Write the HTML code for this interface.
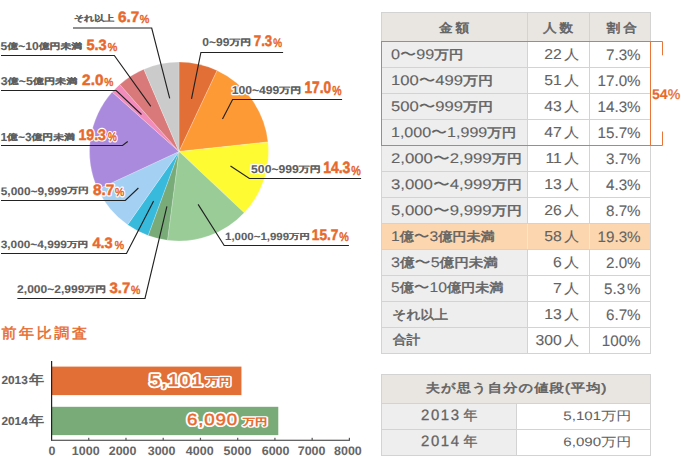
<!DOCTYPE html>
<html lang="ja">
<head>
<meta charset="utf-8">
<style>
html,body{margin:0;padding:0;background:#fff;}
body{width:681px;height:456px;overflow:hidden;position:relative;font-family:"Liberation Sans",sans-serif;}
svg{position:absolute;left:0;top:0;display:block;}
</style>
</head>
<body>
<svg width="681" height="456" viewBox="0 0 681 456">
<g stroke="#fff" stroke-width="0.3" stroke-opacity="0.7" stroke-linejoin="round">
<path d="M179 151.5L179.00 62.00A89.5 89.5 0 0 1 217.10 70.52Z" fill="#E26F36"/>
<path d="M179 151.5L217.10 70.52A89.5 89.5 0 0 1 267.99 141.95Z" fill="#FE9A36"/>
<path d="M179 151.5L267.99 141.95A89.5 89.5 0 0 1 244.21 212.80Z" fill="#FFFB33"/>
<path d="M179 151.5L244.21 212.80A89.5 89.5 0 0 1 167.44 240.25Z" fill="#9ACC98"/>
<path d="M179 151.5L167.44 240.25A89.5 89.5 0 0 1 148.11 235.50Z" fill="#78AB78"/>
<path d="M179 151.5L148.11 235.50A89.5 89.5 0 0 1 127.62 224.78Z" fill="#38BADC"/>
<path d="M179 151.5L127.62 224.78A89.5 89.5 0 0 1 97.84 189.24Z" fill="#A4D0F4"/>
<path d="M179 151.5L97.84 189.24A89.5 89.5 0 0 1 112.15 91.99Z" fill="#AA8ADD"/>
<path d="M179 151.5L112.15 91.99A89.5 89.5 0 0 1 119.79 84.38Z" fill="#F28CBC"/>
<path d="M179 151.5L119.79 84.38A89.5 89.5 0 0 1 143.85 69.19Z" fill="#DA7979"/>
<path d="M179 151.5L143.85 69.19A89.5 89.5 0 0 1 179.00 62.00Z" fill="#CBCBCB"/>
</g>
<g fill="none" stroke="#222" stroke-width="1.15">
<polyline points="73,28 151.7,28 169.7,98.4"/>
<polyline points="1,55.5 114.3,55.5 150.8,106.4"/>
<polyline points="1,90.5 116.2,90.5 141.5,114.5"/>
<polyline points="1,145.5 122.5,145.5 127.7,141.5"/>
<polyline points="1,200.5 125.3,200.5 138.4,188"/>
<polyline points="1,253.5 126.5,253.5 153.6,200.9"/>
<polyline points="17.4,298.5 145,298.5 166.9,206.3"/>
<polyline points="283.1,52.5 200.9,52.5 191.5,98.9"/>
<polyline points="342.1,99.5 232.6,99.5 222.5,119"/>
<polyline points="361.1,178.5 249.4,178.5 230.5,166"/>
<polyline points="348.9,245.5 224.2,245.5 198.1,204.4"/>
</g>
<g font-family="Liberation Sans, sans-serif" font-weight="bold" fill="#fff" stroke="#fff" stroke-width="2.6" stroke-linejoin="round" text-rendering="geometricPrecision">
<text transform="matrix(1.0666 0 0 0.8734 73.88 22.29)" font-size="13" font-weight="bold"><tspan font-size="9.4" dy="-1.3">それ以上</tspan></text>
<text transform="matrix(1.0926 0 0 1.0722 118.02 21.97)" font-size="14" font-weight="bold">6.7</text>
<text transform="matrix(0.9739 0 0 1.0629 139.8 23.34)" font-size="11" font-weight="normal">%</text>
<text transform="matrix(1.1613 0 0 0.8723 0.59 50.37)" font-size="13" font-weight="bold"><tspan font-size="13" textLength="5.79" lengthAdjust="spacingAndGlyphs">5</tspan><tspan font-size="9.4" dy="-1.3">億</tspan><tspan font-size="13" dy="1.3" textLength="17.65" lengthAdjust="spacingAndGlyphs">~10</tspan><tspan font-size="9.4" dy="-1.3">億円未満</tspan></text>
<text transform="matrix(1.0398 0 0 1.074 86.44 49.87)" font-size="14" font-weight="bold">5.3</text>
<text transform="matrix(0.9739 0 0 1.0629 107.8 51.34)" font-size="11" font-weight="normal">%</text>
<text transform="matrix(1.1907 0 0 0.8731 0.63 85.48)" font-size="13" font-weight="bold"><tspan font-size="13" textLength="5.79" lengthAdjust="spacingAndGlyphs">3</tspan><tspan font-size="9.4" dy="-1.3">億</tspan><tspan font-size="13" dy="1.3" textLength="11.86" lengthAdjust="spacingAndGlyphs">~5</tspan><tspan font-size="9.4" dy="-1.3">億円未満</tspan></text>
<text transform="matrix(1.0935 0 0 1.074 82.12 84.98)" font-size="14" font-weight="bold">2.0</text>
<text transform="matrix(0.9213 0 0 1.0625 104.31 86.34)" font-size="11" font-weight="normal">%</text>
<text transform="matrix(1.1529 0 0 0.8988 0.42 140.69)" font-size="13" font-weight="bold"><tspan font-size="13" textLength="5.79" lengthAdjust="spacingAndGlyphs">1</tspan><tspan font-size="9.4" dy="-1.3">億</tspan><tspan font-size="13" dy="1.3" textLength="11.86" lengthAdjust="spacingAndGlyphs">~3</tspan><tspan font-size="9.4" dy="-1.3">億円未満</tspan></text>
<text transform="matrix(1.0095 0 0 1.0956 78.44 140.06)" font-size="14" font-weight="bold">19.3</text>
<text transform="matrix(0.8951 0 0 1.1256 108.0 141.22)" font-size="11" font-weight="normal">%</text>
<text transform="matrix(1.1454 0 0 0.8444 0.71 194.52)" font-size="13" font-weight="bold"><tspan font-size="13" textLength="58.12" lengthAdjust="spacingAndGlyphs">5,000~9,999</tspan><tspan font-size="9.4" dy="-1.3">万円</tspan></text>
<text transform="matrix(1.0935 0 0 1.0718 92.92 194.88)" font-size="14" font-weight="bold">8.7</text>
<text transform="matrix(0.9478 0 0 1.0625 115.0 196.43)" font-size="11" font-weight="normal">%</text>
<text transform="matrix(1.1387 0 0 0.8225 0.71 248.36)" font-size="13" font-weight="bold"><tspan font-size="13" textLength="58.12" lengthAdjust="spacingAndGlyphs">3,000~4,999</tspan><tspan font-size="9.4" dy="-1.3">万円</tspan></text>
<text transform="matrix(1.039 0 0 1.0717 92.41 247.85)" font-size="14" font-weight="bold">4.3</text>
<text transform="matrix(0.9478 0 0 1.0625 114.7 249.34)" font-size="11" font-weight="normal">%</text>
<text transform="matrix(1.1586 0 0 0.8669 17.09 292.85)" font-size="13" font-weight="bold"><tspan font-size="13" textLength="58.12" lengthAdjust="spacingAndGlyphs">2,000~2,999</tspan><tspan font-size="9.4" dy="-1.3">万円</tspan></text>
<text transform="matrix(1.0658 0 0 1.0716 109.5 293.08)" font-size="14" font-weight="bold">3.7</text>
<text transform="matrix(0.9478 0 0 1.0941 131.0 294.42)" font-size="11" font-weight="normal">%</text>
<text transform="matrix(1.1585 0 0 0.8689 202.29 46.38)" font-size="13" font-weight="bold"><tspan font-size="13" textLength="23.44" lengthAdjust="spacingAndGlyphs">0~99</tspan><tspan font-size="9.4" dy="-1.3">万円</tspan></text>
<text transform="matrix(0.9475 0 0 1.0952 253.76 45.65)" font-size="14" font-weight="bold">7.3</text>
<text transform="matrix(0.8953 0 0 1.1254 273.32 47.33)" font-size="11" font-weight="normal">%</text>
<text transform="matrix(1.1681 0 0 0.8689 231.68 93.99)" font-size="13" font-weight="bold"><tspan font-size="13" textLength="40.79" lengthAdjust="spacingAndGlyphs">100~499</tspan><tspan font-size="9.4" dy="-1.3">万円</tspan></text>
<text transform="matrix(0.9809 0 0 1.1953 304.46 92.96)" font-size="14" font-weight="bold">17.0</text>
<text transform="matrix(0.9478 0 0 1.1878 332.31 94.51)" font-size="11" font-weight="normal">%</text>
<text transform="matrix(1.171 0 0 0.8688 251.09 173.2)" font-size="13" font-weight="bold"><tspan font-size="13" textLength="40.79" lengthAdjust="spacingAndGlyphs">500~999</tspan><tspan font-size="9.4" dy="-1.3">万円</tspan></text>
<text transform="matrix(1.0001 0 0 1.1714 323.14 172.97)" font-size="14" font-weight="bold">14.3</text>
<text transform="matrix(0.9741 0 0 1.1878 351.3 174.51)" font-size="11" font-weight="normal">%</text>
<text transform="matrix(1.1026 0 0 0.8004 225.03 240.15)" font-size="13" font-weight="bold"><tspan font-size="13" textLength="58.12" lengthAdjust="spacingAndGlyphs">1,000~1,999</tspan><tspan font-size="9.4" dy="-1.3">万円</tspan></text>
<text transform="matrix(0.9808 0 0 1.0956 311.76 240.05)" font-size="14" font-weight="bold">15.7</text>
<text transform="matrix(0.9741 0 0 1.1256 339.3 241.22)" font-size="11" font-weight="normal">%</text>
</g>
<g font-family="Liberation Sans, sans-serif" font-weight="bold" text-rendering="geometricPrecision">
<text transform="matrix(1.0666 0 0 0.8734 73.88 22.29)" font-size="13" font-weight="bold" fill="#5e5e5e" stroke="#5e5e5e" stroke-width="0.1"><tspan font-size="9.4" dy="-1.3">それ以上</tspan></text>
<text transform="matrix(1.0926 0 0 1.0722 118.02 21.97)" font-size="14" font-weight="bold" fill="#e8692c" stroke="#e8692c" stroke-width="0.45">6.7</text>
<text transform="matrix(0.9739 0 0 1.0629 139.8 23.34)" font-size="11" font-weight="normal" fill="#e8692c" stroke="#e8692c" stroke-width="0.5">%</text>
<text transform="matrix(1.1613 0 0 0.8723 0.59 50.37)" font-size="13" font-weight="bold" fill="#5e5e5e" stroke="#5e5e5e" stroke-width="0.1"><tspan font-size="13" textLength="5.79" lengthAdjust="spacingAndGlyphs">5</tspan><tspan font-size="9.4" dy="-1.3">億</tspan><tspan font-size="13" dy="1.3" textLength="17.65" lengthAdjust="spacingAndGlyphs">~10</tspan><tspan font-size="9.4" dy="-1.3">億円未満</tspan></text>
<text transform="matrix(1.0398 0 0 1.074 86.44 49.87)" font-size="14" font-weight="bold" fill="#e8692c" stroke="#e8692c" stroke-width="0.45">5.3</text>
<text transform="matrix(0.9739 0 0 1.0629 107.8 51.34)" font-size="11" font-weight="normal" fill="#e8692c" stroke="#e8692c" stroke-width="0.5">%</text>
<text transform="matrix(1.1907 0 0 0.8731 0.63 85.48)" font-size="13" font-weight="bold" fill="#5e5e5e" stroke="#5e5e5e" stroke-width="0.1"><tspan font-size="13" textLength="5.79" lengthAdjust="spacingAndGlyphs">3</tspan><tspan font-size="9.4" dy="-1.3">億</tspan><tspan font-size="13" dy="1.3" textLength="11.86" lengthAdjust="spacingAndGlyphs">~5</tspan><tspan font-size="9.4" dy="-1.3">億円未満</tspan></text>
<text transform="matrix(1.0935 0 0 1.074 82.12 84.98)" font-size="14" font-weight="bold" fill="#e8692c" stroke="#e8692c" stroke-width="0.45">2.0</text>
<text transform="matrix(0.9213 0 0 1.0625 104.31 86.34)" font-size="11" font-weight="normal" fill="#e8692c" stroke="#e8692c" stroke-width="0.5">%</text>
<text transform="matrix(1.1529 0 0 0.8988 0.42 140.69)" font-size="13" font-weight="bold" fill="#5e5e5e" stroke="#5e5e5e" stroke-width="0.1"><tspan font-size="13" textLength="5.79" lengthAdjust="spacingAndGlyphs">1</tspan><tspan font-size="9.4" dy="-1.3">億</tspan><tspan font-size="13" dy="1.3" textLength="11.86" lengthAdjust="spacingAndGlyphs">~3</tspan><tspan font-size="9.4" dy="-1.3">億円未満</tspan></text>
<text transform="matrix(1.0095 0 0 1.0956 78.44 140.06)" font-size="14" font-weight="bold" fill="#e8692c" stroke="#e8692c" stroke-width="0.45">19.3</text>
<text transform="matrix(0.8951 0 0 1.1256 108.0 141.22)" font-size="11" font-weight="normal" fill="#e8692c" stroke="#e8692c" stroke-width="0.5">%</text>
<text transform="matrix(1.1454 0 0 0.8444 0.71 194.52)" font-size="13" font-weight="bold" fill="#5e5e5e" stroke="#5e5e5e" stroke-width="0.1"><tspan font-size="13" textLength="58.12" lengthAdjust="spacingAndGlyphs">5,000~9,999</tspan><tspan font-size="9.4" dy="-1.3">万円</tspan></text>
<text transform="matrix(1.0935 0 0 1.0718 92.92 194.88)" font-size="14" font-weight="bold" fill="#e8692c" stroke="#e8692c" stroke-width="0.45">8.7</text>
<text transform="matrix(0.9478 0 0 1.0625 115.0 196.43)" font-size="11" font-weight="normal" fill="#e8692c" stroke="#e8692c" stroke-width="0.5">%</text>
<text transform="matrix(1.1387 0 0 0.8225 0.71 248.36)" font-size="13" font-weight="bold" fill="#5e5e5e" stroke="#5e5e5e" stroke-width="0.1"><tspan font-size="13" textLength="58.12" lengthAdjust="spacingAndGlyphs">3,000~4,999</tspan><tspan font-size="9.4" dy="-1.3">万円</tspan></text>
<text transform="matrix(1.039 0 0 1.0717 92.41 247.85)" font-size="14" font-weight="bold" fill="#e8692c" stroke="#e8692c" stroke-width="0.45">4.3</text>
<text transform="matrix(0.9478 0 0 1.0625 114.7 249.34)" font-size="11" font-weight="normal" fill="#e8692c" stroke="#e8692c" stroke-width="0.5">%</text>
<text transform="matrix(1.1586 0 0 0.8669 17.09 292.85)" font-size="13" font-weight="bold" fill="#5e5e5e" stroke="#5e5e5e" stroke-width="0.1"><tspan font-size="13" textLength="58.12" lengthAdjust="spacingAndGlyphs">2,000~2,999</tspan><tspan font-size="9.4" dy="-1.3">万円</tspan></text>
<text transform="matrix(1.0658 0 0 1.0716 109.5 293.08)" font-size="14" font-weight="bold" fill="#e8692c" stroke="#e8692c" stroke-width="0.45">3.7</text>
<text transform="matrix(0.9478 0 0 1.0941 131.0 294.42)" font-size="11" font-weight="normal" fill="#e8692c" stroke="#e8692c" stroke-width="0.5">%</text>
<text transform="matrix(1.1585 0 0 0.8689 202.29 46.38)" font-size="13" font-weight="bold" fill="#5e5e5e" stroke="#5e5e5e" stroke-width="0.1"><tspan font-size="13" textLength="23.44" lengthAdjust="spacingAndGlyphs">0~99</tspan><tspan font-size="9.4" dy="-1.3">万円</tspan></text>
<text transform="matrix(0.9475 0 0 1.0952 253.76 45.65)" font-size="14" font-weight="bold" fill="#e8692c" stroke="#e8692c" stroke-width="0.45">7.3</text>
<text transform="matrix(0.8953 0 0 1.1254 273.32 47.33)" font-size="11" font-weight="normal" fill="#e8692c" stroke="#e8692c" stroke-width="0.5">%</text>
<text transform="matrix(1.1681 0 0 0.8689 231.68 93.99)" font-size="13" font-weight="bold" fill="#5e5e5e" stroke="#5e5e5e" stroke-width="0.1"><tspan font-size="13" textLength="40.79" lengthAdjust="spacingAndGlyphs">100~499</tspan><tspan font-size="9.4" dy="-1.3">万円</tspan></text>
<text transform="matrix(0.9809 0 0 1.1953 304.46 92.96)" font-size="14" font-weight="bold" fill="#e8692c" stroke="#e8692c" stroke-width="0.45">17.0</text>
<text transform="matrix(0.9478 0 0 1.1878 332.31 94.51)" font-size="11" font-weight="normal" fill="#e8692c" stroke="#e8692c" stroke-width="0.5">%</text>
<text transform="matrix(1.171 0 0 0.8688 251.09 173.2)" font-size="13" font-weight="bold" fill="#5e5e5e" stroke="#5e5e5e" stroke-width="0.1"><tspan font-size="13" textLength="40.79" lengthAdjust="spacingAndGlyphs">500~999</tspan><tspan font-size="9.4" dy="-1.3">万円</tspan></text>
<text transform="matrix(1.0001 0 0 1.1714 323.14 172.97)" font-size="14" font-weight="bold" fill="#e8692c" stroke="#e8692c" stroke-width="0.45">14.3</text>
<text transform="matrix(0.9741 0 0 1.1878 351.3 174.51)" font-size="11" font-weight="normal" fill="#e8692c" stroke="#e8692c" stroke-width="0.5">%</text>
<text transform="matrix(1.1026 0 0 0.8004 225.03 240.15)" font-size="13" font-weight="bold" fill="#5e5e5e" stroke="#5e5e5e" stroke-width="0.1"><tspan font-size="13" textLength="58.12" lengthAdjust="spacingAndGlyphs">1,000~1,999</tspan><tspan font-size="9.4" dy="-1.3">万円</tspan></text>
<text transform="matrix(0.9808 0 0 1.0956 311.76 240.05)" font-size="14" font-weight="bold" fill="#e8692c" stroke="#e8692c" stroke-width="0.45">15.7</text>
<text transform="matrix(0.9741 0 0 1.1256 339.3 241.22)" font-size="11" font-weight="normal" fill="#e8692c" stroke="#e8692c" stroke-width="0.5">%</text>
</g>
<text transform="matrix(1.0059 0 0 0.9676 1.5 338.43)" font-family="Liberation Sans, sans-serif" font-size="15" font-weight="normal" fill="#e86b2e" stroke="#e86b2e" stroke-width="0.45" text-rendering="geometricPrecision" letter-spacing="2.5">前年比調査</text>
<rect x="52" y="366.6" width="189.45" height="28.5" fill="#E26F36"/>
<rect x="52" y="406.8" width="226.28" height="28.3" fill="#78AB78"/>
<rect x="51" y="361" width="1.2" height="80" fill="#222"/>
<rect x="51" y="439.7" width="298.9" height="1.2" fill="#555"/>
<rect x="88.14" y="437.8" width="1.2" height="2.5" fill="#555"/>
<rect x="125.38" y="437.8" width="1.2" height="2.5" fill="#555"/>
<rect x="162.61" y="437.8" width="1.2" height="2.5" fill="#555"/>
<rect x="199.85" y="437.8" width="1.2" height="2.5" fill="#555"/>
<rect x="237.09" y="437.8" width="1.2" height="2.5" fill="#555"/>
<rect x="274.32" y="437.8" width="1.2" height="2.5" fill="#555"/>
<rect x="311.56" y="437.8" width="1.2" height="2.5" fill="#555"/>
<rect x="348.80" y="437.8" width="1.2" height="2.5" fill="#555"/>
<g font-family="Liberation Sans, sans-serif" font-size="12" font-weight="bold" fill="#666" text-anchor="middle" text-rendering="geometricPrecision">
<text transform="matrix(1.04 0 0 1.03 51.90 455.4)">0</text>
<text transform="matrix(1.04 0 0 1.03 85.70 455.4)">1000</text>
<text transform="matrix(1.04 0 0 1.03 122.60 455.4)">2000</text>
<text transform="matrix(1.04 0 0 1.03 161.60 455.4)">3000</text>
<text transform="matrix(1.04 0 0 1.03 199.70 455.4)">4000</text>
<text transform="matrix(1.04 0 0 1.03 237.50 455.4)">5000</text>
<text transform="matrix(1.04 0 0 1.03 275.60 455.4)">6000</text>
<text transform="matrix(1.04 0 0 1.03 311.60 455.4)">7000</text>
<text transform="matrix(1.04 0 0 1.03 347.90 455.4)">8000</text>
</g>
<text transform="matrix(1.0769 0 0 0.9275 1.43 384.07)" font-family="Liberation Sans, sans-serif" font-size="12.5" font-weight="bold" fill="#5e5e5e" stroke="#5e5e5e" stroke-width="0.1" text-rendering="geometricPrecision"><tspan textLength="24.5" lengthAdjust="spacingAndGlyphs">2013</tspan><tspan dx="1" font-size="14" font-weight="normal" stroke-width="0.6">年</tspan></text>
<text transform="matrix(1.0769 0 0 0.9275 1.43 425.07)" font-family="Liberation Sans, sans-serif" font-size="12.5" font-weight="bold" fill="#5e5e5e" stroke="#5e5e5e" stroke-width="0.1" text-rendering="geometricPrecision"><tspan textLength="24.5" lengthAdjust="spacingAndGlyphs">2014</tspan><tspan dx="1" font-size="14" font-weight="normal" stroke-width="0.6">年</tspan></text>
<text transform="matrix(1.0455 0 0 0.8923 149.48 385.84)" font-family="Liberation Sans, sans-serif" font-size="19" font-weight="normal" fill="#fff" stroke="#fff" stroke-width="4.6" stroke-linejoin="round" text-rendering="geometricPrecision" letter-spacing="0.8">5,101</text><text transform="matrix(1.0455 0 0 0.8923 149.48 385.84)" font-family="Liberation Sans, sans-serif" font-size="19" font-weight="normal" fill="#e26f36" stroke="#e26f36" stroke-width="0.5" text-rendering="geometricPrecision" letter-spacing="0.8">5,101</text>
<text transform="matrix(1.0326 0 0 0.8271 206.3 385.15)" font-family="Liberation Sans, sans-serif" font-size="12" font-weight="normal" fill="#fff" stroke="#fff" stroke-width="4.0" stroke-linejoin="round" text-rendering="geometricPrecision">万円</text><text transform="matrix(1.0326 0 0 0.8271 206.3 385.15)" font-family="Liberation Sans, sans-serif" font-size="12" font-weight="normal" fill="#e26f36" stroke="#e26f36" stroke-width="0.7" text-rendering="geometricPrecision">万円</text>
<text transform="matrix(0.9849 0 0 0.8462 187.06 424.68)" font-family="Liberation Sans, sans-serif" font-size="19" font-weight="normal" fill="#fff" stroke="#fff" stroke-width="4.6" stroke-linejoin="round" text-rendering="geometricPrecision" letter-spacing="0.8">6,090</text><text transform="matrix(0.9849 0 0 0.8462 187.06 424.68)" font-family="Liberation Sans, sans-serif" font-size="19" font-weight="normal" fill="#e8692c" stroke="#e8692c" stroke-width="0.5" text-rendering="geometricPrecision" letter-spacing="0.8">6,090</text>
<text transform="matrix(1.0326 0 0 0.784 242.71 424.64)" font-family="Liberation Sans, sans-serif" font-size="12" font-weight="normal" fill="#fff" stroke="#fff" stroke-width="4.0" stroke-linejoin="round" text-rendering="geometricPrecision">万円</text><text transform="matrix(1.0326 0 0 0.784 242.71 424.64)" font-family="Liberation Sans, sans-serif" font-size="12" font-weight="normal" fill="#e8692c" stroke="#e8692c" stroke-width="0.7" text-rendering="geometricPrecision">万円</text>
<rect x="381" y="12" width="270" height="29" fill="#E9E5E1"/>
<rect x="381" y="41" width="146" height="26" fill="#EEEEEE"/>
<rect x="381" y="67" width="146" height="26" fill="#EEEEEE"/>
<rect x="381" y="93" width="146" height="26" fill="#EEEEEE"/>
<rect x="381" y="119" width="146" height="26" fill="#EEEEEE"/>
<rect x="381" y="145" width="146" height="26" fill="#EEEEEE"/>
<rect x="381" y="171" width="146" height="26" fill="#EEEEEE"/>
<rect x="381" y="197" width="146" height="26" fill="#EEEEEE"/>
<rect x="381" y="223" width="270" height="26" fill="#FCD6AE"/>
<rect x="381" y="249" width="146" height="26" fill="#EEEEEE"/>
<rect x="381" y="275" width="146" height="26" fill="#EEEEEE"/>
<rect x="381" y="301" width="146" height="26" fill="#EEEEEE"/>
<rect x="381" y="327" width="146" height="26" fill="#EEEEEE"/>
<rect x="381" y="12" width="1" height="342" fill="#D3D3D3"/>
<rect x="527" y="12" width="1" height="342" fill="#D3D3D3"/>
<rect x="589" y="12" width="1" height="342" fill="#D3D3D3"/>
<rect x="650" y="12" width="1" height="342" fill="#D3D3D3"/>
<rect x="381" y="12" width="270" height="1" fill="#D3D3D3"/>
<rect x="381" y="41" width="270" height="1" fill="#D3D3D3"/>
<rect x="381" y="67" width="270" height="1" fill="#D3D3D3"/>
<rect x="381" y="93" width="270" height="1" fill="#D3D3D3"/>
<rect x="381" y="119" width="270" height="1" fill="#D3D3D3"/>
<rect x="381" y="145" width="270" height="1" fill="#D3D3D3"/>
<rect x="381" y="171" width="270" height="1" fill="#D3D3D3"/>
<rect x="381" y="197" width="270" height="1" fill="#D3D3D3"/>
<rect x="381" y="223" width="270" height="1" fill="#D3D3D3"/>
<rect x="381" y="249" width="270" height="1" fill="#D3D3D3"/>
<rect x="381" y="275" width="270" height="1" fill="#D3D3D3"/>
<rect x="381" y="301" width="270" height="1" fill="#D3D3D3"/>
<rect x="381" y="327" width="270" height="1" fill="#D3D3D3"/>
<rect x="381" y="353" width="270" height="1" fill="#D3D3D3"/>
<rect x="527" y="224" width="1" height="25" fill="#F4E6D8"/>
<rect x="589" y="224" width="1" height="25" fill="#F4E6D8"/>
<g font-family="Liberation Sans, sans-serif" font-size="14" fill="#636363" stroke="#636363" stroke-width="0.6" text-anchor="middle" letter-spacing="3" text-rendering="geometricPrecision">
<text transform="matrix(0.9758 0 0 0.8816 455.6 31.62)">金額</text>
<text transform="matrix(0.9758 0 0 0.8816 559.5 31.62)">人数</text>
<text transform="matrix(0.9758 0 0 0.8816 623.2 31.62)">割合</text>
</g>
<g font-family="Liberation Sans, sans-serif" font-size="15.5" fill="#636363" stroke="#636363" stroke-width="0.1" text-rendering="geometricPrecision">
<text transform="matrix(1.0444 0 0 0.9059 390.98 58.87)">0〜99<tspan font-size="14" stroke-width="0.55">万円</tspan></text>
<text text-anchor="end" transform="matrix(1.0152 0 0 0.9275 579.0 59.08)">22<tspan dx="2.5" font-size="14.5">人</tspan></text>
<text text-anchor="end" transform="matrix(0.9781 0 0 0.9781 640.6 60.06)">7.3%</text>
<text transform="matrix(1.072 0 0 0.9059 390.98 84.87)">100〜499<tspan font-size="14" stroke-width="0.55">万円</tspan></text>
<text text-anchor="end" transform="matrix(1.0152 0 0 0.9275 579.0 85.08)">51<tspan dx="2.5" font-size="14.5">人</tspan></text>
<text text-anchor="end" transform="matrix(0.9781 0 0 0.9781 640.6 86.06)">17.0%</text>
<text transform="matrix(1.072 0 0 0.9059 390.98 110.87)">500〜999<tspan font-size="14" stroke-width="0.55">万円</tspan></text>
<text text-anchor="end" transform="matrix(1.0152 0 0 0.9275 579.0 111.08)">43<tspan dx="2.5" font-size="14.5">人</tspan></text>
<text text-anchor="end" transform="matrix(0.9781 0 0 0.9781 640.6 112.06)">14.3%</text>
<text transform="matrix(1.034 0 0 0.9059 390.98 136.87)">1,000〜1,999<tspan font-size="14" stroke-width="0.55">万円</tspan></text>
<text text-anchor="end" transform="matrix(1.0152 0 0 0.9275 579.0 137.08)">47<tspan dx="2.5" font-size="14.5">人</tspan></text>
<text text-anchor="end" transform="matrix(0.9781 0 0 0.9781 640.6 138.06)">15.7%</text>
<text transform="matrix(1.082 0 0 0.9059 390.98 162.87)">2,000〜2,999<tspan font-size="14" stroke-width="0.55">万円</tspan></text>
<text text-anchor="end" transform="matrix(1.0152 0 0 0.9275 579.0 163.08)">11<tspan dx="2.5" font-size="14.5">人</tspan></text>
<text text-anchor="end" transform="matrix(0.9781 0 0 0.9781 640.6 164.06)">3.7%</text>
<text transform="matrix(1.082 0 0 0.9059 390.98 188.87)">3,000〜4,999<tspan font-size="14" stroke-width="0.55">万円</tspan></text>
<text text-anchor="end" transform="matrix(1.0152 0 0 0.9275 579.0 189.08)">13<tspan dx="2.5" font-size="14.5">人</tspan></text>
<text text-anchor="end" transform="matrix(0.9781 0 0 0.9781 640.6 190.06)">4.3%</text>
<text transform="matrix(1.082 0 0 0.9059 390.98 214.87)">5,000〜9,999<tspan font-size="14" stroke-width="0.55">万円</tspan></text>
<text text-anchor="end" transform="matrix(1.0152 0 0 0.9275 579.0 215.08)">26<tspan dx="2.5" font-size="14.5">人</tspan></text>
<text text-anchor="end" transform="matrix(0.9781 0 0 0.9781 640.6 216.06)">8.7%</text>
<text transform="matrix(1.01 0 0 0.9059 390.98 240.87)">1<tspan font-size="14" stroke-width="0.55">億</tspan>〜3<tspan font-size="14" stroke-width="0.55">億円未満</tspan></text>
<text text-anchor="end" transform="matrix(1.0152 0 0 0.9275 579.0 241.08)">58<tspan dx="2.5" font-size="14.5">人</tspan></text>
<text text-anchor="end" transform="matrix(0.9781 0 0 0.9781 640.6 242.06)">19.3%</text>
<text transform="matrix(1.04 0 0 0.9059 390.98 266.87)">3<tspan font-size="14" stroke-width="0.55">億</tspan>〜5<tspan font-size="14" stroke-width="0.55">億円未満</tspan></text>
<text text-anchor="end" transform="matrix(1.0152 0 0 0.9275 579.0 267.08)">6<tspan dx="2.5" font-size="14.5">人</tspan></text>
<text text-anchor="end" transform="matrix(0.9781 0 0 0.9781 640.6 268.06)">2.0%</text>
<text transform="matrix(1.01 0 0 0.9059 390.98 291.87)">5<tspan font-size="14" stroke-width="0.55">億</tspan>〜10<tspan font-size="14" stroke-width="0.55">億円未満</tspan></text>
<text text-anchor="end" transform="matrix(1.0152 0 0 0.9275 579.0 293.08)">7<tspan dx="2.5" font-size="14.5">人</tspan></text>
<text text-anchor="end" transform="matrix(0.9781 0 0 0.9781 640.6 294.06)">5.3<tspan dx="2">%</tspan></text>
<text transform="matrix(0.985 0 0 0.9059 392.28 318.57)"><tspan font-size="14" stroke-width="0.55">それ以上</tspan></text>
<text text-anchor="end" transform="matrix(1.0152 0 0 0.9275 579.0 319.08)">13<tspan dx="2.5" font-size="14.5">人</tspan></text>
<text text-anchor="end" transform="matrix(0.9781 0 0 0.9781 640.6 320.06)">6.7%</text>
<text transform="matrix(0.985 0 0 0.9059 392.78 343.87)"><tspan font-size="14" stroke-width="0.55">合計</tspan></text>
<text text-anchor="end" transform="matrix(1.0152 0 0 0.9275 579.0 345.08)">300<tspan dx="2.5" font-size="14.5">人</tspan></text>
<text text-anchor="end" transform="matrix(0.9781 0 0 0.9781 640.6 346.06)">100%</text>
</g>
<g fill="none" stroke="#E8763A" stroke-width="1">
<rect x="381.5" y="41.5" width="269" height="104"/>
<polyline points="650,41.5 662.5,41.5 662.5,55.3"/>
<polyline points="650,145.5 662.5,145.5 662.5,131.5"/>
</g>
<text transform="matrix(1.0093 0 0 1.0002 652.0 98.85)" font-family="Liberation Sans, sans-serif" font-size="14" font-weight="bold" fill="#e8692c" stroke="#e8692c" stroke-width="0.1" text-rendering="geometricPrecision">54<tspan font-weight="normal" stroke-width="0.3">%</tspan></text>
<rect x="381" y="374" width="270" height="29" fill="#E9E5E1"/>
<rect x="381" y="403" width="135" height="52" fill="#EEEEEE"/>
<rect x="381" y="374" width="270" height="1" fill="#D3D3D3"/>
<rect x="381" y="403" width="270" height="1" fill="#D3D3D3"/>
<rect x="381" y="429" width="270" height="1" fill="#D3D3D3"/>
<rect x="381" y="455" width="270" height="1" fill="#D3D3D3"/>
<rect x="381" y="374" width="1" height="82" fill="#D3D3D3"/>
<rect x="650" y="374" width="1" height="82" fill="#D3D3D3"/>
<rect x="516" y="403" width="1" height="53" fill="#D3D3D3"/>
<text transform="matrix(1.0973 0 0 0.9288 425.69 392.31)" font-family="Liberation Sans, sans-serif" font-size="13" font-weight="normal" fill="#636363" stroke="#636363" stroke-width="0.6" text-rendering="geometricPrecision" letter-spacing="1">夫が思う自分の値段(平均)</text>
<text transform="matrix(0.9956 0 0 1.0008 421.0 420.22)" font-family="Liberation Sans, sans-serif" font-size="15" font-weight="normal" fill="#636363" stroke="#636363" stroke-width="0.3" text-rendering="geometricPrecision" letter-spacing="1.6">2013<tspan dx="3" font-size="14">年</tspan></text>
<text transform="matrix(0.9956 0 0 1.0008 421.0 446.22)" font-family="Liberation Sans, sans-serif" font-size="15" fill="#636363" stroke="#636363" stroke-width="0.3" letter-spacing="1.6" text-rendering="geometricPrecision">2014<tspan dx="3" font-size="14">年</tspan></text>
<text text-anchor="end" transform="matrix(1.0076 0 0 0.8156 631.4 420.29)" font-family="Liberation Sans, sans-serif" font-size="15" fill="#636363" stroke="#636363" stroke-width="0.05" text-rendering="geometricPrecision">5,101万円</text>
<text text-anchor="end" transform="matrix(1.0076 0 0 0.8156 631.4 445.69)" font-family="Liberation Sans, sans-serif" font-size="15" fill="#636363" stroke="#636363" stroke-width="0.05" text-rendering="geometricPrecision">6,090万円</text>
</svg>
</body>
</html>
